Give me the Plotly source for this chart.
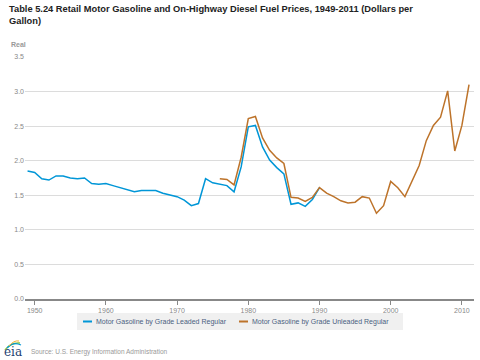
import plotly.graph_objects as go

years_leaded = list(range(1949, 1991))
leaded = [1.85, 1.83, 1.74, 1.72, 1.78, 1.78, 1.75, 1.74, 1.75, 1.67,
          1.66, 1.67, 1.64, 1.61, 1.58, 1.55, 1.57, 1.57, 1.57, 1.53,
          1.51, 1.48, 1.43, 1.35, 1.38, 1.74, 1.68, 1.66, 1.64, 1.55,
          1.91, 2.49, 2.51, 2.20, 2.01, 1.90, 1.81, 1.37, 1.39, 1.34,
          1.44, 1.61]

years_unleaded = list(range(1976, 2012))
unleaded = [1.74, 1.73, 1.65, 2.05, 2.61, 2.64, 2.33, 2.15, 2.04, 1.96,
            1.47, 1.46, 1.41, 1.47, 1.61, 1.53, 1.48, 1.42, 1.39, 1.40,
            1.48, 1.46, 1.24, 1.35, 1.70, 1.61, 1.48, 1.70, 1.93, 2.29,
            2.51, 2.63, 3.01, 2.14, 2.51, 3.10]

series_names = ["Motor Gasoline by Grade Leaded Regular",
                "Motor Gasoline by Grade Unleaded Regular"]
series_colors = ["#0096d7", "#bd732a"]

x_ticks = [1950, 1960, 1970, 1980, 1990, 2000, 2010]
y_ticks = [0.0, 0.5, 1.0, 1.5, 2.0, 2.5, 3.0, 3.5]

FONT = "Liberation Sans, Arial, sans-serif"

# layout helpers: convert page pixels to paper coords
L, R, T, B = 25, 6, 57, 61
PW, PH = 480 - L - R, 360 - T - B
def px(x):
    return (x - L) / PW
def py(y):
    return (360 - B - y) / PH

fig = go.Figure()
fig.add_trace(go.Scatter(x=years_leaded, y=leaded, mode="lines",
                         name=series_names[0], showlegend=False,
                         line=dict(color=series_colors[0], width=1.5)))
fig.add_trace(go.Scatter(x=years_unleaded, y=unleaded, mode="lines",
                         name=series_names[1], showlegend=False,
                         line=dict(color=series_colors[1], width=1.5)))

shapes = [
    dict(type="rect", xref="paper", yref="paper", layer="below",
         x0=px(77), x1=px(403), y0=py(313), y1=py(330),
         fillcolor="#f0f0f0", line=dict(width=0)),
    dict(type="line", xref="paper", yref="paper",
         x0=px(83), x1=px(92), y0=py(321.5), y1=py(321.5),
         line=dict(color=series_colors[0], width=2)),
    dict(type="line", xref="paper", yref="paper",
         x0=px(239), x1=px(248), y0=py(321.5), y1=py(321.5),
         line=dict(color=series_colors[1], width=2)),
    # eia logo arcs
    dict(type="path", xref="paper", yref="paper",
         path=f"M {px(5)} {py(350)} Q {px(11)} {py(342)} {px(20)} {py(343)}",
         line=dict(color="#8dc63f", width=1.5)),
    dict(type="path", xref="paper", yref="paper",
         path=f"M {px(7)} {py(348)} Q {px(13)} {py(341)} {px(21)} {py(345)}",
         line=dict(color="#0096d7", width=1.2)),
    dict(type="path", xref="paper", yref="paper",
         path=f"M {px(9)} {py(346)} Q {px(14)} {py(340)} {px(19)} {py(341)}",
         line=dict(color="#f2b233", width=1)),
]

annotations = [
    dict(text="<b>Table 5.24 Retail Motor Gasoline and On-Highway Diesel Fuel Prices, 1949-2011 (Dollars per<br>Gallon)</b>",
         xref="paper", yref="paper", x=px(7), y=py(2),
         xanchor="left", yanchor="top", align="left", showarrow=False,
         font=dict(size=9.3, color="#222222", family=FONT)),
    dict(text="<b>Real</b>", xref="paper", yref="paper",
         x=px(9), y=py(45), xanchor="left", yanchor="middle",
         showarrow=False, font=dict(size=7, color="#999999", family=FONT)),
    dict(text=series_names[0], xref="paper", yref="paper",
         x=px(94), y=py(321.5), xanchor="left", yanchor="middle",
         showarrow=False, font=dict(size=7, color="#4a6080", family=FONT)),
    dict(text=series_names[1], xref="paper", yref="paper",
         x=px(250), y=py(321.5), xanchor="left", yanchor="middle",
         showarrow=False, font=dict(size=7, color="#4a6080", family=FONT)),
    dict(text="Source: U.S. Energy Information Administration",
         xref="paper", yref="paper", x=px(29), y=py(352),
         xanchor="left", yanchor="middle", showarrow=False,
         font=dict(size=6.5, color="#999999", family=FONT)),
    dict(text="eia", xref="paper", yref="paper", x=px(2), y=py(352),
         xanchor="left", yanchor="middle", showarrow=False,
         font=dict(size=12, color="#1f3f72", family="DejaVu Serif, serif")),
]

fig.update_layout(
    width=480, height=360,
    margin=dict(l=L, r=R, t=T, b=B),
    paper_bgcolor="white", plot_bgcolor="white",
    font=dict(family=FONT, color="#888888", size=7),
    showlegend=False,
    xaxis=dict(range=[1948.64, 2011.7], tickvals=x_ticks,
               ticktext=[str(v) for v in x_ticks],
               showgrid=False, zeroline=False,
               showline=True, linecolor="#888888", linewidth=2,
               ticks="outside", ticklen=4, tickcolor="#888888",
               tickfont=dict(size=7, color="#888888")),
    yaxis=dict(range=[0, 3.5], tickvals=y_ticks,
               ticktext=[f"{v:.1f}" for v in y_ticks],
               showgrid=True, gridcolor="#dcdcdc", gridwidth=1,
               zeroline=False, showline=False, ticks="",
               tickfont=dict(size=7, color="#888888")),
    shapes=shapes,
    annotations=annotations,
)

fig.write_html("out.html", config={"displayModeBar": False},
               post_script="document.body.style.margin='0';document.body.style.overflow='hidden';")
